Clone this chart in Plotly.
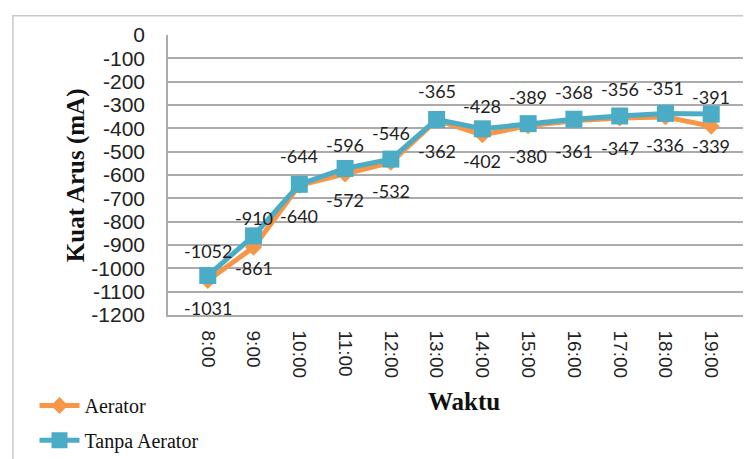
import plotly.graph_objects as go

# jam pengukuran
waktu = ["8:00", "9:00", "10:00", "11:00", "12:00", "13:00",
         "14:00", "15:00", "16:00", "17:00", "18:00", "19:00"]

# kuat arus (mA)
aerator = [-1052, -910, -644, -596, -546, -365, -428, -389, -368, -356, -351, -391]
tanpa_aerator = [-1031, -861, -640, -572, -532, -362, -402, -380, -361, -347, -336, -339]

y_ticks = list(range(-1200, 1, 100))
y_tick_text = [str(v) for v in y_ticks]

ORANGE = "#F79646"
TEAL = "#4BACC6"
GRID = "#ABABAB"
SERIF = "Liberation Serif"

fig = go.Figure()
fig.add_trace(go.Scatter(x=waktu, y=aerator, name="Aerator", mode="lines+markers",
                         line=dict(color=ORANGE, width=5),
                         marker=dict(symbol="diamond", size=13, color=ORANGE),
                         legend="legend"))
fig.add_trace(go.Scatter(x=waktu, y=tanpa_aerator, name="Tanpa Aerator", mode="lines+markers",
                         line=dict(color=TEAL, width=5),
                         marker=dict(symbol="square", size=17, color=TEAL),
                         legend="legend2"))

# label data ala excel: aerator di atas, tanpa aerator di bawah
label_font = dict(family="Lato", size=18, color="#222222")
annotations = []
for w, a, t in zip(waktu, aerator, tanpa_aerator):
    annotations.append(dict(x=w, y=a, text=str(a), showarrow=False, yshift=29, font=label_font))
    annotations.append(dict(x=w, y=t, text=str(t), showarrow=False, yshift=-32, font=label_font))

annotations.append(dict(text="<b>Kuat Arus (mA)</b>", xref="paper", yref="paper",
                        x=-0.185, y=0.5, textangle=-90, showarrow=False,
                        font=dict(family=SERIF, size=25, color="#111111")))
annotations.append(dict(text="<b>Waktu</b>", xref="paper", yref="paper",
                        x=0.508, y=-0.365, showarrow=False,
                        font=dict(family=SERIF, size=25, color="#111111")))

legend_font = dict(family=SERIF, size=20, color="#111111")
fig.update_layout(
    width=751, height=459,
    margin=dict(l=160, r=8, t=27, b=144),
    paper_bgcolor="white", plot_bgcolor="white",
    font=dict(family=SERIF, color="#111111"),
    showlegend=True,
    legend=dict(x=-0.229, y=-0.323, xanchor="left", yanchor="middle",
                font=legend_font, bgcolor="rgba(0,0,0,0)", itemwidth=40),
    legend2=dict(x=-0.229, y=-0.447, xanchor="left", yanchor="middle",
                 font=legend_font, bgcolor="rgba(0,0,0,0)", itemwidth=40),
    annotations=annotations,
    shapes=[dict(type="rect", xref="paper", yref="paper",
                 x0=-0.266, x1=1.012, y0=-0.55, y1=1.069,
                 line=dict(color="#C8C8C8", width=1.5))],
)

fig.update_xaxes(type="category", showgrid=False, showline=True, linecolor=GRID, linewidth=1.5,
                 tickangle=90, ticks="", ticklabelstandoff=10,
                 tickfont=dict(family="Liberation Sans", size=19, color="#222222"))
fig.update_yaxes(range=[-1200, 0], tickvals=y_ticks, ticktext=y_tick_text,
                 showgrid=True, gridcolor=GRID, gridwidth=1.5,
                 showline=True, linecolor=GRID, linewidth=1.5, zeroline=False, ticks="",
                 ticklabelstandoff=17,
                 tickfont=dict(family="Liberation Sans", size=21, color="#222222"))

fig.write_html("out.html")
